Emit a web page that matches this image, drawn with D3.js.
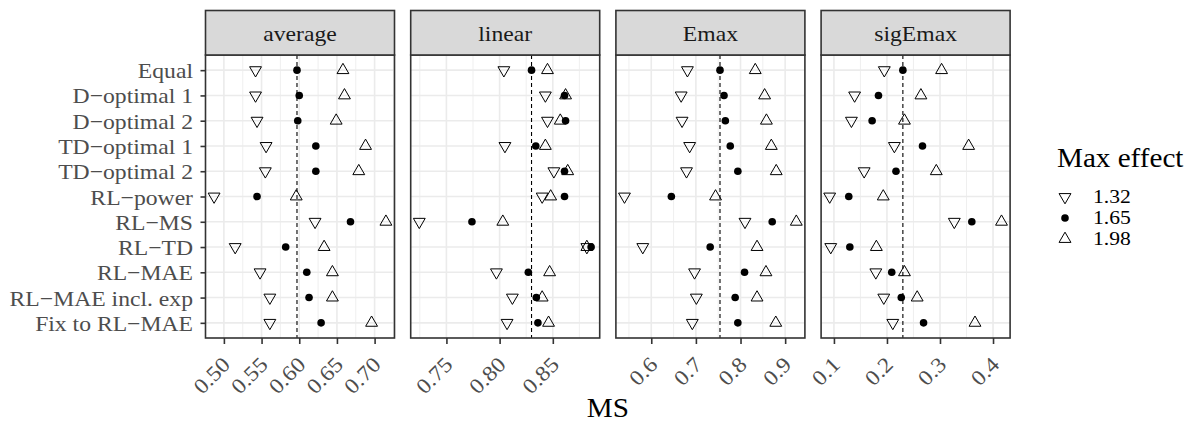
<!DOCTYPE html>
<html lang="en">
<head>
    <meta charset="UTF-8">
    <title>MS by design</title>
    <script src="https://cdnjs.cloudflare.com/ajax/libs/d3/7.8.5/d3.min.js"></script>
    <style>
        body { margin: 0; background: #fff; }
        text { font-family: "Liberation Serif", "Times New Roman", serif; }
    </style>
</head>
<body>

<script>
    // categories, top to bottom
    var designs = ["Equal", "D\u2212optimal 1", "D\u2212optimal 2", "TD\u2212optimal 1", "TD\u2212optimal 2",
        "RL\u2212power", "RL\u2212MS", "RL\u2212TD", "RL\u2212MAE", "RL\u2212MAE incl. exp", "Fix to RL\u2212MAE"];
    var panels = ["average", "linear", "Emax", "sigEmax"];
    var effects = ["1.32", "1.65", "1.98"];

    // MS values, one array per panel and max effect
    var averageLow  = [0.542, 0.542, 0.544, 0.556, 0.555, 0.487, 0.621, 0.515, 0.548, 0.561, 0.561];
    var averageMid  = [0.597, 0.600, 0.598, 0.622, 0.622, 0.544, 0.668, 0.582, 0.610, 0.613, 0.629];
    var averageHigh = [0.658, 0.660, 0.649, 0.688, 0.679, 0.596, 0.715, 0.633, 0.644, 0.644, 0.696];

    var linearLow  = [0.804, 0.843, 0.845, 0.805, 0.851, 0.840, 0.7245, 0.882, 0.797, 0.812, 0.807];
    var linearMid  = [0.830, 0.861, 0.862, 0.834, 0.861, 0.861, 0.774, 0.886, 0.827, 0.8345, 0.836];
    var linearHigh = [0.845, 0.862, 0.857, 0.843, 0.864, 0.848, 0.803, 0.882, 0.847, 0.840, 0.846];

    var emaxLow  = [0.681, 0.667, 0.669, 0.686, 0.679, 0.540, 0.810, 0.581, 0.697, 0.701, 0.692];
    var emaxMid  = [0.754, 0.763, 0.766, 0.777, 0.794, 0.645, 0.871, 0.732, 0.809, 0.788, 0.794];
    var emaxHigh = [0.833, 0.854, 0.858, 0.869, 0.880, 0.744, 0.925, 0.837, 0.857, 0.837, 0.879];

    var sigEmaxLow  = [0.195, 0.139, 0.133, 0.214, 0.157, 0.092, 0.327, 0.094, 0.179, 0.194, 0.211];
    var sigEmaxMid  = [0.230, 0.184, 0.172, 0.267, 0.217, 0.128, 0.360, 0.130, 0.209, 0.227, 0.269];
    var sigEmaxHigh = [0.303, 0.264, 0.233, 0.354, 0.293, 0.193, 0.416, 0.180, 0.233, 0.257, 0.366];

    // x tick labels per panel
    var averageTicks = ["0.50", "0.55", "0.60", "0.65", "0.70"];
    var linearTicks  = ["0.75", "0.80", "0.85"];
    var emaxTicks    = ["0.6", "0.7", "0.8", "0.9"];
    var sigEmaxTicks = ["0.1", "0.2", "0.3", "0.4"];

    var series = [
        [averageLow, averageMid, averageHigh],
        [linearLow, linearMid, linearHigh],
        [emaxLow, emaxMid, emaxHigh],
        [sigEmaxLow, sigEmaxMid, sigEmaxHigh]
    ];
    var ticks = [averageTicks, linearTicks, emaxTicks, sigEmaxTicks];

    var width = 1193, height = 426;
    var panelLeft = 205.5, panelW = 189, panelGap = 16.2;
    var stripTop = 10.5, panelTop = 55, panelBottom = 338;
    var sx = 1.1; // glyphs in the reference are a bit wider than Liberation Serif
    var dark = "#333333", gridCol = "#EBEBEB";

    var svg = d3.select("body").append("svg")
        .attr("width", width)
        .attr("height", height);

    var y = d3.scalePoint().domain(designs).range([panelTop, panelBottom]).padding(0.6);

    function triangle(s, up) {
        var r = 1.5551 * s, xc = 1.3468 * s, yc = 0.7776 * s;
        if (up) return "M0," + (-r) + "L" + xc + "," + yc + "L" + (-xc) + "," + yc + "Z";
        return "M0," + r + "L" + xc + "," + (-yc) + "L" + (-xc) + "," + (-yc) + "Z";
    }

    function drawShape(g, k) {
        if (k === 1) {
            return g.append("circle").attr("r", 3.8).attr("fill", "black");
        }
        return g.append("path").attr("d", triangle(4.4, k === 2))
            .attr("fill", "none").attr("stroke", "black").attr("stroke-width", 1);
    }

    panels.forEach(function (name, p) {
        var left = panelLeft + p * (panelW + panelGap);
        var all = d3.merge(series[p]);
        var lo = d3.min(all), hi = d3.max(all), pad = (hi - lo) * 0.05;
        var x = d3.scaleLinear().domain([lo - pad, hi + pad]).range([left, left + panelW]);
        var tickVals = ticks[p].map(Number);
        var step = tickVals[1] - tickVals[0];

        var g = svg.append("g");

        // panel background + grid
        g.append("rect").attr("x", left).attr("y", panelTop)
            .attr("width", panelW).attr("height", panelBottom - panelTop).attr("fill", "white");

        var minor = [];
        for (var v = tickVals[0] - step / 2; v <= hi + pad; v += step) {
            if (v >= lo - pad) minor.push(v);
        }
        g.selectAll("line.minor").data(minor).enter().append("line")
            .attr("x1", function (d) { return x(d); }).attr("x2", function (d) { return x(d); })
            .attr("y1", panelTop).attr("y2", panelBottom)
            .attr("stroke", gridCol).attr("stroke-width", 0.8);
        g.selectAll("line.major").data(tickVals).enter().append("line")
            .attr("x1", function (d) { return x(d); }).attr("x2", function (d) { return x(d); })
            .attr("y1", panelTop).attr("y2", panelBottom)
            .attr("stroke", gridCol).attr("stroke-width", 1.6);
        g.selectAll("line.hgrid").data(designs).enter().append("line")
            .attr("x1", left).attr("x2", left + panelW)
            .attr("y1", function (d) { return y(d); }).attr("y2", function (d) { return y(d); })
            .attr("stroke", gridCol).attr("stroke-width", 1.6);

        // reference line at Equal, 1.65
        g.append("line")
            .attr("x1", x(series[p][1][0])).attr("x2", x(series[p][1][0]))
            .attr("y1", panelTop).attr("y2", panelBottom)
            .attr("stroke", "black").attr("stroke-width", 1.1).attr("stroke-dasharray", "4,3");

        // points
        series[p].forEach(function (vals, k) {
            vals.forEach(function (val, i) {
                var pg = g.append("g").attr("transform", "translate(" + x(val) + "," + y(designs[i]) + ")");
                drawShape(pg, k);
            });
        });

        // border
        g.append("rect").attr("x", left).attr("y", panelTop)
            .attr("width", panelW).attr("height", panelBottom - panelTop)
            .attr("fill", "none").attr("stroke", dark).attr("stroke-width", 1.6);

        // strip
        g.append("rect").attr("x", left).attr("y", stripTop)
            .attr("width", panelW).attr("height", panelTop - stripTop)
            .attr("fill", "#D9D9D9").attr("stroke", dark).attr("stroke-width", 1.6);
        g.append("text")
            .attr("transform", "translate(" + (left + panelW / 2) + "," + ((stripTop + panelTop) / 2 + 8.5) + ") scale(" + sx + ",1)")
            .attr("text-anchor", "middle").attr("font-size", 21.5).attr("fill", "#1A1A1A")
            .text(name);

        // x axis
        var ax = g.append("g").attr("transform", "translate(0," + panelBottom + ")")
            .call(d3.axisBottom(x).tickValues(tickVals).tickSize(6)
                .tickFormat(function (d, i) { return ticks[p][i]; }));
        ax.select(".domain").remove();
        ax.selectAll(".tick line").attr("stroke", dark).attr("stroke-width", 1.6);
        ax.selectAll(".tick text")
            .attr("x", null).attr("y", null).attr("dy", null)
            .attr("transform", "translate(7,28) rotate(-45) scale(" + sx + ",1)")
            .attr("text-anchor", "end")
            .attr("font-family", null)
            .attr("font-size", 21.5).attr("fill", "#4D4D4D");

        if (p === 0) {
            var ay = g.append("g").attr("transform", "translate(" + left + ",0)")
                .call(d3.axisLeft(y).tickSize(5));
            ay.select(".domain").remove();
            ay.selectAll(".tick line").attr("stroke", dark).attr("stroke-width", 1.6);
            ay.selectAll(".tick text")
                .attr("x", null).attr("y", null).attr("dy", null)
                .attr("transform", "translate(-12.5,7.5) scale(" + sx + ",1)")
                .attr("text-anchor", "end")
                .attr("font-family", null)
                .attr("font-size", 21.5).attr("fill", "#4D4D4D");
        }
    });

    // x axis title
    var panelsRight = panelLeft + 4 * panelW + 3 * panelGap;
    svg.append("text")
        .attr("transform", "translate(" + ((panelLeft + panelsRight) / 2) + ",417) scale(" + sx + ",1)")
        .attr("text-anchor", "middle").attr("font-size", 26.5).attr("fill", "black")
        .text("MS");

    // legend
    var legend = svg.append("g");
    legend.append("text")
        .attr("transform", "translate(1057,166.5) scale(" + sx + ",1)")
        .attr("font-size", 26.5).attr("fill", "black")
        .text("Max effect");
    effects.forEach(function (e, k) {
        var ly = 197 + k * 21;
        var lg = legend.append("g").attr("transform", "translate(1065," + ly + ")");
        drawShape(lg, k);
        legend.append("text")
            .attr("transform", "translate(1093," + (ly + 6) + ") scale(1.2,1)")
            .attr("font-size", 18).attr("fill", "black")
            .text(e);
    });
</script>

</body>
</html>
